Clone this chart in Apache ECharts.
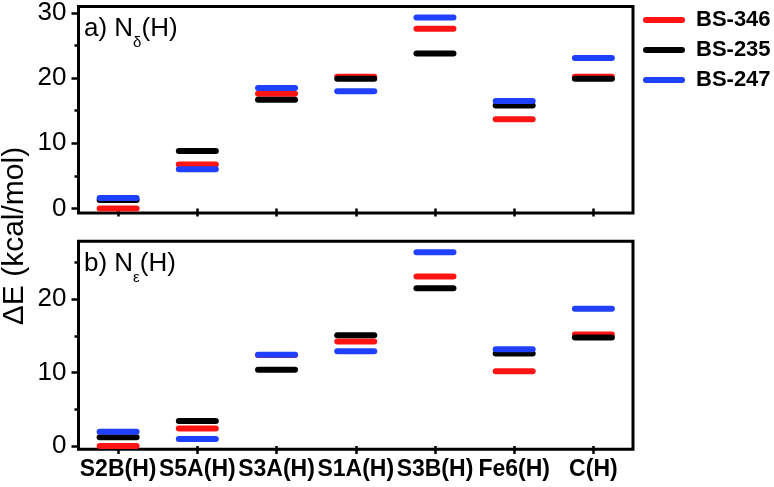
<!DOCTYPE html>
<html>
<head>
<meta charset="utf-8">
<script src="https://cdn.jsdelivr.net/npm/echarts@6/dist/echarts.min.js"></script>
<style>
html, body { margin: 0; padding: 0; background: #fff; }
#chart { width: 774px; height: 487px; }
</style>
</head>
<body>
<div id="chart"></div>
<script>
var chart = echarts.init(document.getElementById('chart'));

// categories and values (kcal/mol)
var categories = ['S2B(H)', 'S5A(H)', 'S3A(H)', 'S1A(H)', 'S3B(H)', 'Fe6(H)', 'C(H)'];
var seriesNames = ['BS-346', 'BS-235', 'BS-247'];
var seriesColors = ['#ff1414', '#000000', '#2040ff'];

// a) N-delta(H)
var bs346Nd = [0, 6.75, 17.6, 20.2, 27.6, 13.7, 20.2];
var bs235Nd = [1.3, 8.8, 16.7, 19.9, 23.8, 15.8, 19.9];
var bs247Nd = [1.6, 6.0, 18.5, 18.0, 29.3, 16.5, 23.1];

// b) N-epsilon(H)
var bs346Ne = [0, 2.4, 12.4, 14.25, 23.1, 10.2, 15.2];
var bs235Ne = [1.2, 3.4, 10.4, 15.1, 21.5, 12.6, 14.8];
var bs247Ne = [1.95, 0.95, 12.45, 12.9, 26.4, 13.2, 18.7];

var topTicks = [0, 10, 20, 30];
var topMinor = [5, 15, 25];
var botTicks = [0, 10, 20];
var botMinor = [5, 15, 25];

var pill = 'path://M3,0 L39,0 A3,3 0 0 1 39,6 L3,6 A3,3 0 0 1 3,0 Z';
var font = 'Liberation Sans, Arial, sans-serif';

function levelSeries(name, color, data, axisIdx) {
    return {
        name: name,
        type: 'scatter',
        xAxisIndex: axisIdx,
        yAxisIndex: axisIdx * 2,
        symbol: pill,
        symbolSize: [43, 6],
        itemStyle: { color: color, opacity: 1 },
        emphasis: { disabled: true },
        data: data,
        z: 3
    };
}

function valueAxis(grid, min, max, ticks, major) {
    return {
        type: 'value',
        gridIndex: grid,
        position: 'left',
        min: min,
        max: max,
        axisLine: { show: false },
        splitLine: { show: false },
        axisTick: {
            show: true,
            inside: false,
            length: major ? 7 : 4,
            customValues: ticks,
            lineStyle: { color: '#000', width: 2.5 }
        },
        axisLabel: {
            show: major,
            customValues: ticks,
            margin: 12,
            color: '#000',
            fontSize: 26,
            fontFamily: font
        }
    };
}

function catAxis(grid, showLabel) {
    return {
        type: 'category',
        gridIndex: grid,
        data: categories,
        boundaryGap: true,
        axisLine: { show: false },
        splitLine: { show: false },
        axisTick: {
            show: true,
            alignWithLabel: true,
            interval: 0,
            length: 8,
            lineStyle: { color: '#000', width: 2.5 }
        },
        axisLabel: {
            show: showLabel,
            interval: 0,
            margin: 9,
            color: '#000',
            fontSize: 23,
            fontWeight: 'bold',
            fontFamily: font
        }
    };
}

function panelLabel(text, y) {
    return {
        type: 'text',
        x: 84,
        y: y,
        style: {
            text: text,
            rich: {
                a: { fontSize: 26, lineHeight: 26, verticalAlign: 'top', fill: '#000', fontFamily: font },
                s: { fontSize: 15, lineHeight: 15, verticalAlign: 'top', padding: [19, 0, 0, 0], fill: '#000', fontFamily: font }
            }
        }
    };
}

var option = {
    backgroundColor: '#fff',
    animation: false,
    legend: {
        orient: 'vertical',
        left: 643,
        top: 9,
        padding: 0,
        itemWidth: 42,
        itemHeight: 6,
        itemGap: 8,
        icon: pill,
        data: seriesNames,
        textStyle: {
            color: '#000',
            fontSize: 22,
            fontWeight: 'bold',
            fontFamily: font,
            padding: [0, 0, 0, 6]
        }
    },
    grid: [
        { left: 78.5, width: 554.5, top: 5.3, height: 207.7, show: true, borderColor: '#000', borderWidth: 3, backgroundColor: 'transparent' },
        { left: 78.5, width: 554.5, top: 241.3, height: 208, show: true, borderColor: '#000', borderWidth: 3, backgroundColor: 'transparent' }
    ],
    xAxis: [catAxis(0, false), catAxis(1, true)],
    yAxis: [
        valueAxis(0, -0.7, 31, topTicks, true),
        valueAxis(0, -0.7, 31, topMinor, false),
        valueAxis(1, -0.45, 27.9, botTicks, true),
        valueAxis(1, -0.45, 27.9, botMinor, false)
    ],
    graphic: [
        {
            type: 'text',
            x: 15,
            y: 236,
            rotation: Math.PI / 2,
            style: {
                text: 'ΔE (kcal/mol)',
                fill: '#000',
                font: '30px Liberation Sans, Arial, sans-serif',
                align: 'center',
                verticalAlign: 'middle'
            }
        },
        panelLabel('{a|a) N}{s|δ}{a|(H)}', 16),
        panelLabel('{a|b) N}{s|ε}{a|(H)}', 251)
    ],
    series: [
        levelSeries(seriesNames[0], seriesColors[0], bs346Nd, 0),
        levelSeries(seriesNames[1], seriesColors[1], bs235Nd, 0),
        levelSeries(seriesNames[2], seriesColors[2], bs247Nd, 0),
        levelSeries(seriesNames[0], seriesColors[0], bs346Ne, 1),
        levelSeries(seriesNames[1], seriesColors[1], bs235Ne, 1),
        levelSeries(seriesNames[2], seriesColors[2], bs247Ne, 1)
    ]
};
chart.setOption(option);
</script>
</body>
</html>
